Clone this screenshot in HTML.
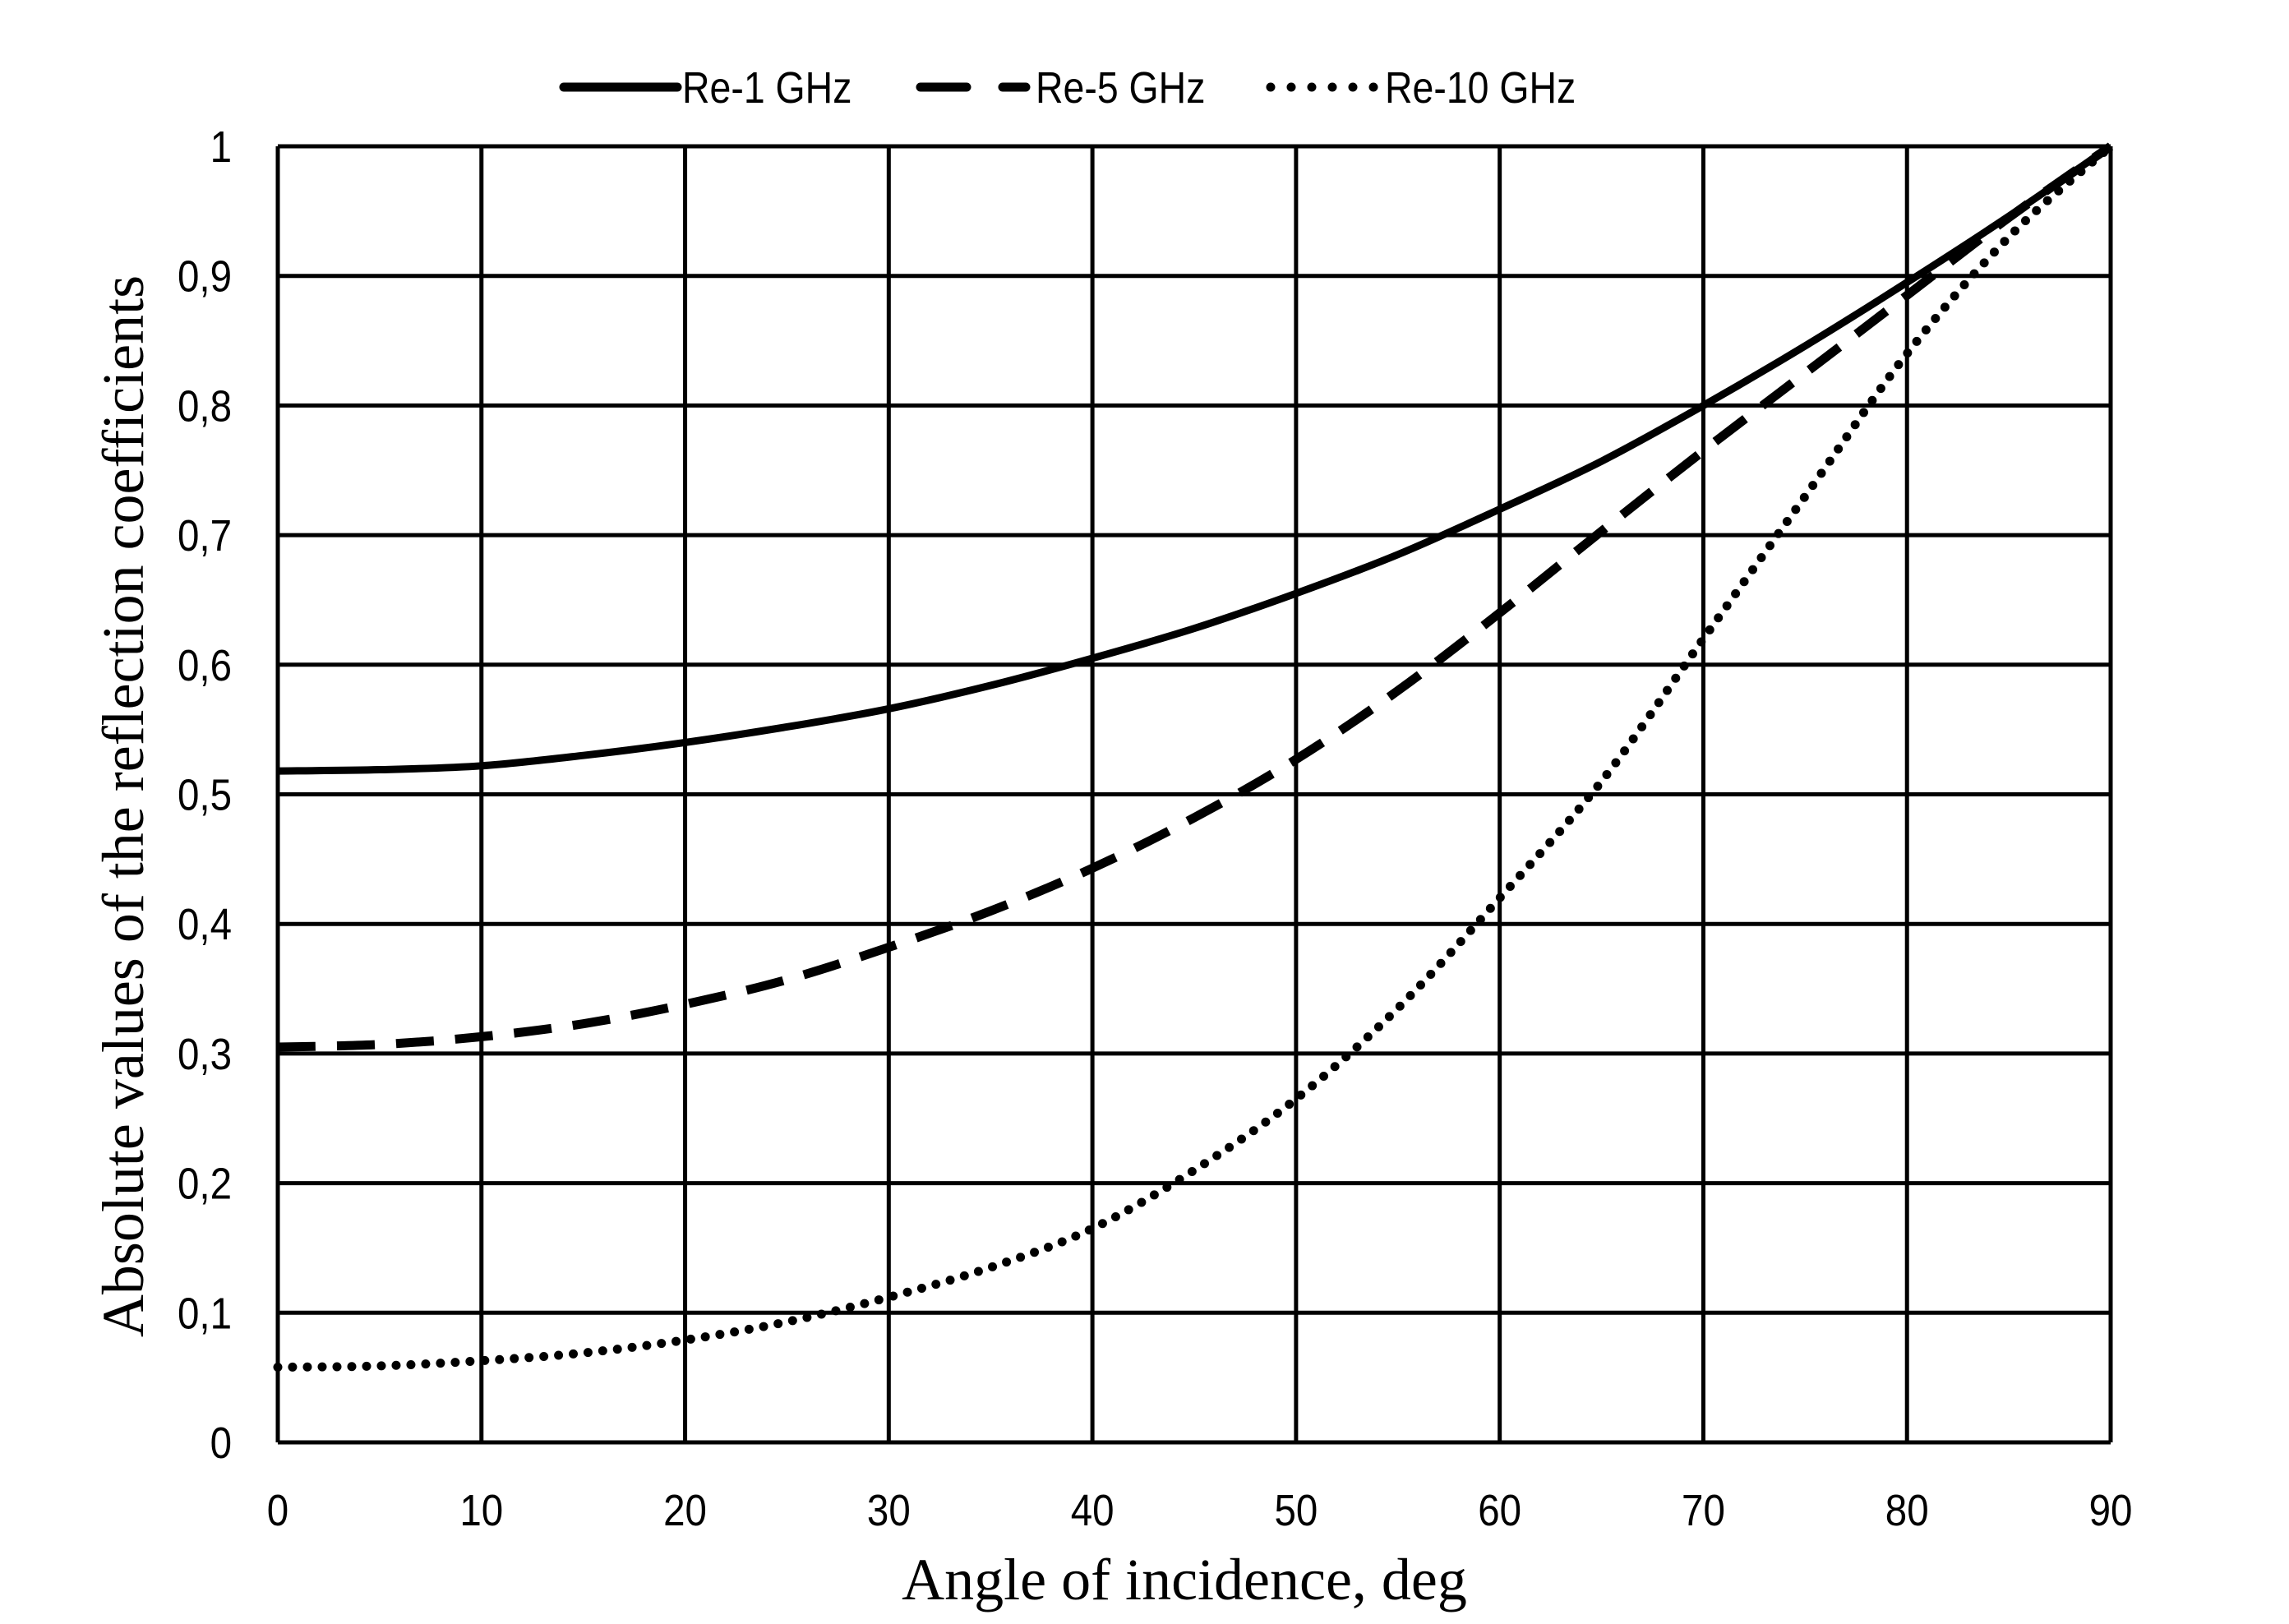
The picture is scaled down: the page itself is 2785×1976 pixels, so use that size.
<!DOCTYPE html>
<html><head><meta charset="utf-8"><style>
html,body{margin:0;padding:0;background:#fff;}
svg{display:block;}
text{fill:#000;}
.tick{font-family:"Liberation Sans",sans-serif;font-size:54px;}
.leg{font-family:"Liberation Sans",sans-serif;font-size:54px;}
.title{font-family:"Liberation Serif",serif;font-size:72px;}
</style></head><body>
<svg id="chart" width="2785" height="1976" viewBox="0 0 2785 1976" xmlns="http://www.w3.org/2000/svg">
<g id="grid"></g>
<g id="series"></g>
<g id="ticks"></g>
<text class="title" x="1441" y="1946" text-anchor="middle">Angle of incidence, deg</text>
<text class="title" transform="translate(174,981) rotate(-90)" text-anchor="middle">Absolute values of the reflection coefficients</text>
<g>
<g>
<line x1="686" y1="106" x2="824" y2="106" stroke="#000" stroke-width="11" stroke-linecap="round"/>
<text class="leg" x="830" y="125" transform="translate(830,0) scale(0.86,1) translate(-830,0)">Re-1 GHz</text></g>
<g>
<line x1="1120" y1="106" x2="1248" y2="106" stroke="#000" stroke-width="11" stroke-dasharray="56 44" stroke-linecap="round"/>
<text class="leg" x="1260" y="125" transform="translate(1260,0) scale(0.86,1) translate(-1260,0)">Re-5 GHz</text></g>
<g>
<line x1="1546" y1="106" x2="1672" y2="106" stroke="#000" stroke-width="11" stroke-dasharray="0 25" stroke-linecap="round"/>
<text class="leg" x="1685" y="125" transform="translate(1685,0) scale(0.86,1) translate(-1685,0)">Re-10 GHz</text></g>
</g>
</svg>
<script>
const angles=[0,5,10,15,20,25,30,35,40,45,50,55,60,65,70,75,80,85,90];
const re1=[0.518,0.519,0.522,0.530,0.540,0.552,0.566,0.584,0.605,0.628,0.655,0.685,0.720,0.757,0.800,0.846,0.895,0.946,1.0];
const re5=[0.305,0.307,0.313,0.323,0.338,0.357,0.382,0.410,0.443,0.482,0.527,0.580,0.640,0.703,0.765,0.825,0.885,0.945,1.0];
const re10=[0.058,0.059,0.063,0.069,0.079,0.093,0.112,0.135,0.165,0.210,0.265,0.335,0.420,0.510,0.620,0.730,0.840,0.930,1.0];
const xTicks=[0,10,20,30,40,50,60,70,80,90];
const yTicks=[0,0.1,0.2,0.3,0.4,0.5,0.6,0.7,0.8,0.9,1];
const yTickLabels=["0","0,1","0,2","0,3","0,4","0,5","0,6","0,7","0,8","0,9","1"];
const X0=338,X1=2568,Y0=1755,Y1=178;
function sx(v){return X0+(v-0)/(90-0)*(X1-X0);}
function sy(v){return Y0-(v-0)/(1-0)*(Y0-Y1);}
const NS="http://www.w3.org/2000/svg";
const grid=document.getElementById('grid'),ser=document.getElementById('series'),tk=document.getElementById('ticks');
function mk(tag,attrs,parent){const e=document.createElementNS(NS,tag);for(const k in attrs)e.setAttribute(k,attrs[k]);parent.appendChild(e);return e;}
xTicks.forEach((t,i)=>{
  const l=mk('line',{x1:sx(t),x2:sx(t),y1:Y1,y2:Y0,stroke:'#000','stroke-width':5},grid);
  
  
  const tx=mk('text',{x:0,y:0,'text-anchor':'middle',class:'tick',transform:'translate('+sx(t)+',1856) scale(0.88,1)'},tk);
  tx.textContent=String(t);
  
  
});
yTicks.forEach((t,i)=>{
  const l=mk('line',{x1:X0,x2:X1,y1:sy(t),y2:sy(t),stroke:'#000','stroke-width':5},grid);
  
  
  const tx=mk('text',{x:0,y:0,'text-anchor':'end',class:'tick',transform:'translate(282,'+(sy(t)+19)+') scale(0.88,1)'},tk);
  tx.textContent=yTickLabels[i];
  
  
});
function pathFor(vals){
  const p=angles.map((a,i)=>[sx(a),sy(vals[i])]);
  let d='M'+p[0][0]+','+p[0][1];
  for(let i=0;i<p.length-1;i++){
    const a=p[Math.max(0,i-1)],b=p[i],c=p[i+1],e=p[Math.min(p.length-1,i+2)];
    const c1=[b[0]+(c[0]-a[0])/6,b[1]+(c[1]-a[1])/6],c2=[c[0]-(e[0]-b[0])/6,c[1]-(e[1]-b[1])/6];
    d+=' C'+c1[0]+','+c1[1]+' '+c2[0]+','+c2[1]+' '+c[0]+','+c[1];
  }
  return d;
}
const s1=mk('path',{d:pathFor(re1),fill:'none',stroke:'#000','stroke-width':9},ser);


const s5=mk('path',{d:pathFor(re5),fill:'none',stroke:'#000','stroke-width':11,'stroke-dasharray':'46 26'},ser);


const s10=mk('path',{d:pathFor(re10),fill:'none',stroke:'#000','stroke-width':11,'stroke-dasharray':'0 18','stroke-linecap':'round'},ser);


</script>
</body></html>
